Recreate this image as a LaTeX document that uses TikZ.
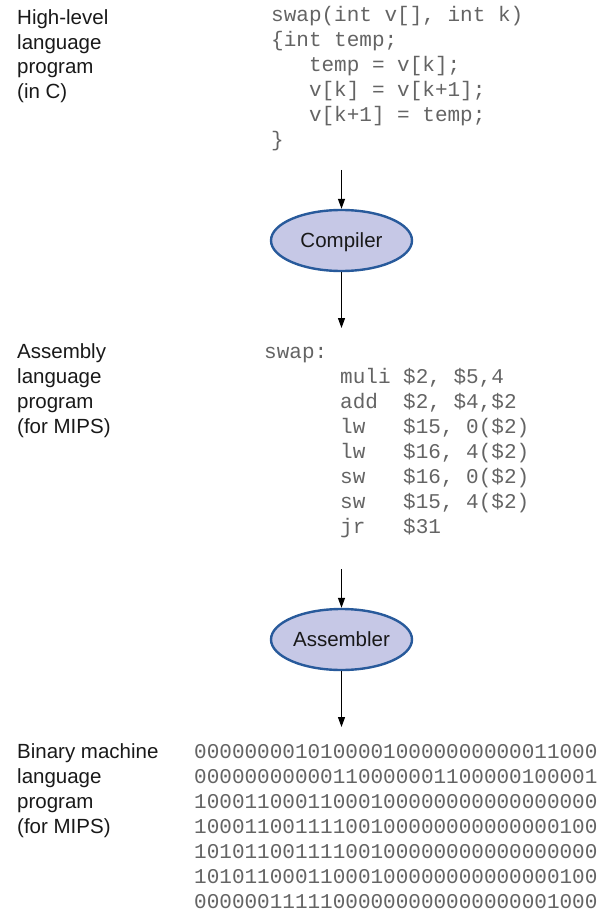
\documentclass[tikz,border=0pt]{standalone}
\usepackage{fontspec}
\setmainfont{Liberation Sans}
\newfontfamily\codefont{Liberation Mono}
\usetikzlibrary{shapes.geometric,arrows.meta}
\definecolor{ellfill}{RGB}{198,200,230}
\definecolor{elldraw}{RGB}{40,90,155}
\definecolor{codecol}{RGB}{100,100,100}
\definecolor{labcol}{RGB}{25,25,25}
\begin{document}
\begin{tikzpicture}[x=1pt,y=-1pt,
  lab/.style={anchor=base west,inner sep=0pt,text=labcol,font=\fontsize{20.5}{24}\selectfont},
  code/.style={anchor=base west,inner sep=0pt,text=codecol,font=\codefont\fontsize{21}{25}\selectfont},
  proc/.style={ellipse,draw=elldraw,fill=ellfill,line width=2.4pt,minimum width=141pt,minimum height=61pt,inner sep=0pt,text height=14.7pt,text depth=0pt,text=labcol,font=\fontsize{20.5}{24}\selectfont},
  flow/.style={line width=1.2pt,-{Triangle[length=10pt,width=7pt]}}]
\useasboundingbox (0,0) rectangle (608,912);
% left labels
\node[lab] (h1) at (17,25) {High-level};
\node[lab] (h2) at (17,50) {language};
\node[lab] (h3) at (17,74) {program};
\node[lab] (h4) at (17,99) {(in C)};
\node[lab] (a1) at (17,358) {Assembly};
\node[lab] (a2) at (17,383) {language};
\node[lab] (a3) at (17,408) {program};
\node[lab] (a4) at (17,433) {(for MIPS)};
\node[lab] (b1) at (17,758) {Binary machine};
\node[lab] (b2) at (17,783) {language};
\node[lab] (b3) at (17,808) {program};
\node[lab] (b4) at (17,833) {(for MIPS)};
% C code
\node[code] (c1) at (271,22) {swap(int v[], int k)};
\node[code] (c2) at (271,47) {\{int temp;};
\node[code] (c3) at (271,72) {\ \ \ temp = v[k];};
\node[code] (c4) at (271,97) {\ \ \ v[k] = v[k+1];};
\node[code] (c5) at (271,122) {\ \ \ v[k+1] = temp;};
\node[code] (c6) at (271,147) {\}};
% assembly
\node[code] (s0) at (264,358) {swap:};
\node[code] (s1) at (340,383) {muli \$2, \$5,4};
\node[code] (s2) at (340,408) {add\ \ \$2, \$4,\$2};
\node[code] (s3) at (340,433) {lw\ \ \ \$15, 0(\$2)};
\node[code] (s4) at (340,458) {lw\ \ \ \$16, 4(\$2)};
\node[code] (s5) at (340,483) {sw\ \ \ \$16, 0(\$2)};
\node[code] (s6) at (340,508) {sw\ \ \ \$15, 4(\$2)};
\node[code] (s7) at (340,533) {jr\ \ \ \$31};
% binary
\node[code] (m1) at (194,758) {00000000101000010000000000011000};
\node[code] (m2) at (194,783) {00000000000110000001100000100001};
\node[code] (m3) at (194,808) {10001100011000100000000000000000};
\node[code] (m4) at (194,833) {10001100111100100000000000000100};
\node[code] (m5) at (194,858) {10101100111100100000000000000000};
\node[code] (m6) at (194,883) {10101100011000100000000000000100};
\node[code] (m7) at (194,908) {00000011111000000000000000001000};
% processes
\node[proc] (comp) at (341.5,240.5) {Compiler};
\node[proc] (asm) at (341.5,639.5) {Assembler};
\coordinate (t1) at (341.5,170);
\coordinate (t2) at (341.5,328);
\coordinate (t3) at (341.5,569);
\coordinate (t4) at (341.5,727);
\draw[flow] (t1) -- (comp.north);
\draw[flow] (comp.south) -- (t2);
\draw[flow] (t3) -- (asm.north);
\draw[flow] (asm.south) -- (t4);
\end{tikzpicture}
\end{document}
